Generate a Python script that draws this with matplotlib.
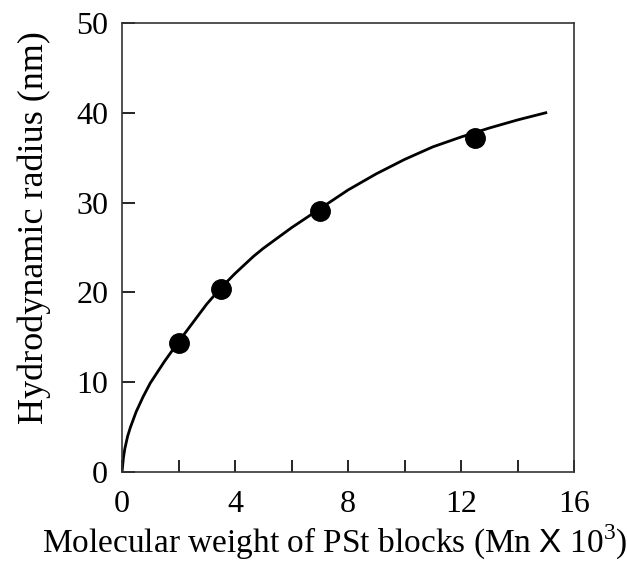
import matplotlib
matplotlib.use('Agg')
import matplotlib.pyplot as plt
from matplotlib.ticker import MultipleLocator

plt.rcParams['font.family'] = ['Liberation Serif', 'DejaVu Serif']
plt.rcParams['mathtext.fontset'] = 'custom'
plt.rcParams['mathtext.rm'] = 'Liberation Serif'
plt.rcParams['mathtext.sf'] = 'Liberation Sans'

# measured points
mw = [2.0, 3.5, 7.0, 12.5]
radius = [14.4, 20.4, 29.1, 37.2]

# fitted curve
curve_x = [0, 0.05, 0.1, 0.2, 0.3, 0.5, 0.75, 1.0, 1.5, 2.0, 3.0, 3.5, 4.0,
           4.65, 5.0, 6.0, 7.0, 8.0, 9.0, 10.0, 11.0, 12.0, 13.0, 14.0, 15.0]
curve_y = [0, 1.6, 2.6, 4.0, 5.0, 6.7, 8.4, 9.9, 12.3, 14.5, 18.7, 20.5,
           22.1, 24.0, 24.9, 27.2, 29.3, 31.4, 33.2, 34.8, 36.2, 37.3,
           38.3, 39.2, 40.0]

fig = plt.figure(figsize=(6.27, 5.74), dpi=100)
ax = fig.add_axes([0.1946, 0.1777, 0.7209, 0.7823])

ax.plot(curve_x, curve_y, color='black', lw=2.0, solid_joinstyle='round')
ax.plot(mw, radius, 'o', color='black', ms=14)

ax.set_xlim(0, 16)
ax.set_ylim(0, 50)
ax.xaxis.set_major_locator(MultipleLocator(4))
ax.xaxis.set_minor_locator(MultipleLocator(2))
ax.yaxis.set_major_locator(MultipleLocator(10))
ax.tick_params(which='both', direction='in', length=9, width=1.2,
               labelsize=23, top=False, right=False)
ax.tick_params(axis='x', pad=13)
ax.tick_params(axis='y', pad=10)
for s in ax.spines.values():
    s.set_linewidth(1.2)
    s.set_color('#333333')

ax.set_ylabel('Hydrodynamic radius (nm)', fontsize=26, labelpad=18, y=0.545)
ax.set_xlabel(r'Molecular weight of PSt blocks (Mn $\mathsf{X}$ 10$^3$)',
              fontsize=24, labelpad=3, x=0.47)

fig.savefig('out.png', dpi=100)
